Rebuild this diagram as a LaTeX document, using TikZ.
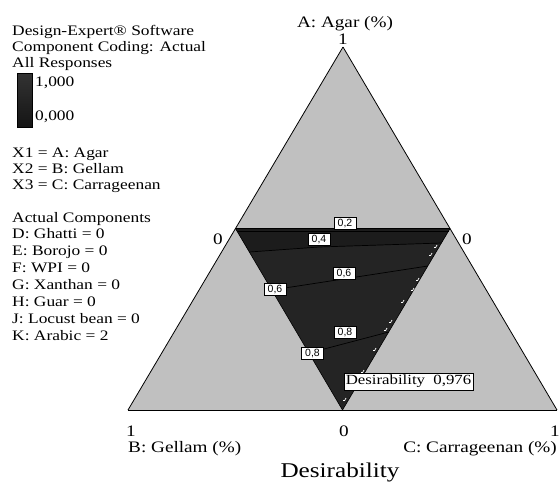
\documentclass[tikz,border=0pt]{standalone}
\usepackage{fontspec}
\setmainfont{Liberation Serif}[FakeStretch=1.2]
\newfontfamily\labsans{Liberation Sans}
\definecolor{outergray}{RGB}{192,192,192}
\definecolor{innerdark}{RGB}{36,36,36}
\definecolor{bandark}{RGB}{28,28,28}
\tikzset{
  lbl/.style={inner sep=0pt, anchor=base west, font=\fontsize{14.5}{14.5}\selectfont},
  ax/.style={inner sep=0pt, anchor=base, font=\fontsize{16}{16}\selectfont},
  clab/.style={draw=black, line width=0.5pt, fill=white, inner sep=1pt,
    font=\labsans\fontsize{10.5}{10.5}\selectfont, minimum width=22pt, minimum height=12pt},
  contour/.style={black, line width=0.7pt},
  tick/.style={white, line width=0.7pt},
}
\begin{document}
\begin{tikzpicture}[x=1pt,y=-1pt]
\useasboundingbox (0,0) rectangle (560,483);
% outer triangle
\coordinate (A) at (343,47);
\coordinate (B) at (128,410);
\coordinate (C) at (557,410);
\coordinate (AB) at (235.5,228.5);
\coordinate (AC) at (450,228.5);
\coordinate (BC) at (342.5,410);
\fill[outergray] (A) -- (B) -- (C) -- cycle;
% inner feasible region
\fill[innerdark] (AB) -- (AC) -- (BC) -- cycle;
\coordinate (c4l) at (249.4,252);
\coordinate (c4m) at (319,247);
\coordinate (c4r) at (441.4,243);
\fill[bandark] (AB) -- (AC) -- (c4r) -- (c4m) -- (c4l) -- cycle;
\coordinate (c6l) at (271.8,290);
\coordinate (c6r) at (427.8,266);
\coordinate (c8l) at (308.9,353);
\coordinate (c8r) at (388.7,332);
\draw[contour] (236.5,231) -- (448.5,231);
\draw[contour] (c4l) -- (c4m) -- (c4r);
\draw[contour] (c6l) -- (c6r);
\draw[contour] (c8l) -- (c8r);
% outlines
\draw[black, line width=0.8pt] (A) -- (B);
\draw[black, line width=0.8pt] (A) -- (C);
\draw[black, line width=1pt] (B) -- (C);
\draw[black, line width=0.8pt] (AB) -- (AC);
\draw[black, line width=0.6pt] (AB) -- (BC);
\draw[black, line width=0.6pt] (AC) -- (BC);
% white tick marks along right inner edge
\foreach \px/\py in {437/245, 432/253, 419/278, 414/288, 404/300, 392/320, 387/328, 376/348, 364/370, 346/398}{
  \draw[tick] (\px,\py) -- ++(-1.4,2.6);
  \draw[tick] (\px-1.4,\py+2.6) -- ++(-1.6,0);
}
% contour labels
\node[clab] (l2) at (345,223.5) {0,2};
\node[clab] (l4) at (319,239) {0,4};
\node[clab] (l6a) at (344,273.5) {0,6};
\node[clab] (l6b) at (275,289) {0,6};
\node[clab] (l8a) at (345,332) {0,8};
\node[clab] (l8b) at (312.5,353) {0,8};
\node[draw=black, line width=0.5pt, fill=white, inner sep=2pt, anchor=north west,
  font=\fontsize{14}{14}\selectfont] (des) at (343.5,373) {Desirability\ \ 0,976};
% vertex labels
\node[ax] (ta) at (345,27) {A: Agar (\%)};
\node[ax] (t1) at (343,44) {1};
\node[ax] (lz) at (218,244) {0};
\node[ax] (rz) at (467,244) {0};
\node[ax] (b1) at (131,436.5) {1};
\node[ax] (b0) at (344,436.5) {0};
\node[ax] (c1) at (555,436.5) {1};
\node[ax, anchor=base west] (tb) at (128,452) {B: Gellam (\%)};
\node[ax, anchor=base east] (tc) at (557,452) {C: Carrageenan (\%)};
\node[inner sep=0pt, anchor=base, font=\fontsize{21}{21}\selectfont] (title) at (340,477) {Desirability};
% legend
\node[lbl] (t01) at (12,35) {Design-Expert\textregistered{} Software};
\node[lbl] (t02) at (12,51) {Component Coding: Actual};
\node[lbl] (t03) at (12,67) {All Responses};
\shade[top color=black!80, bottom color=black!92] (17,73) rectangle (32,127);
\draw[black, line width=0.5pt] (17,73) rectangle (32,127);
\node[lbl] (t04) at (35,86) {1,000};
\node[lbl] (t05) at (35,120) {0,000};
\node[lbl] (t06) at (12,157) {X1 = A: Agar};
\node[lbl] (t07) at (12,173) {X2 = B: Gellam};
\node[lbl] (t08) at (12,189) {X3 = C: Carrageenan};
\node[lbl] (t09) at (12,222) {Actual Components};
\node[lbl] (t10) at (12,238.5) {D: Ghatti = 0};
\node[lbl] (t11) at (12,255.5) {E: Borojo = 0};
\node[lbl] (t12) at (12,272.5) {F: WPI = 0};
\node[lbl] (t13) at (12,289.5) {G: Xanthan = 0};
\node[lbl] (t14) at (12,306.5) {H: Guar = 0};
\node[lbl] (t15) at (12,323.5) {J: Locust bean = 0};
\node[lbl] (t16) at (12,340.5) {K: Arabic = 2};
\end{tikzpicture}
\end{document}
